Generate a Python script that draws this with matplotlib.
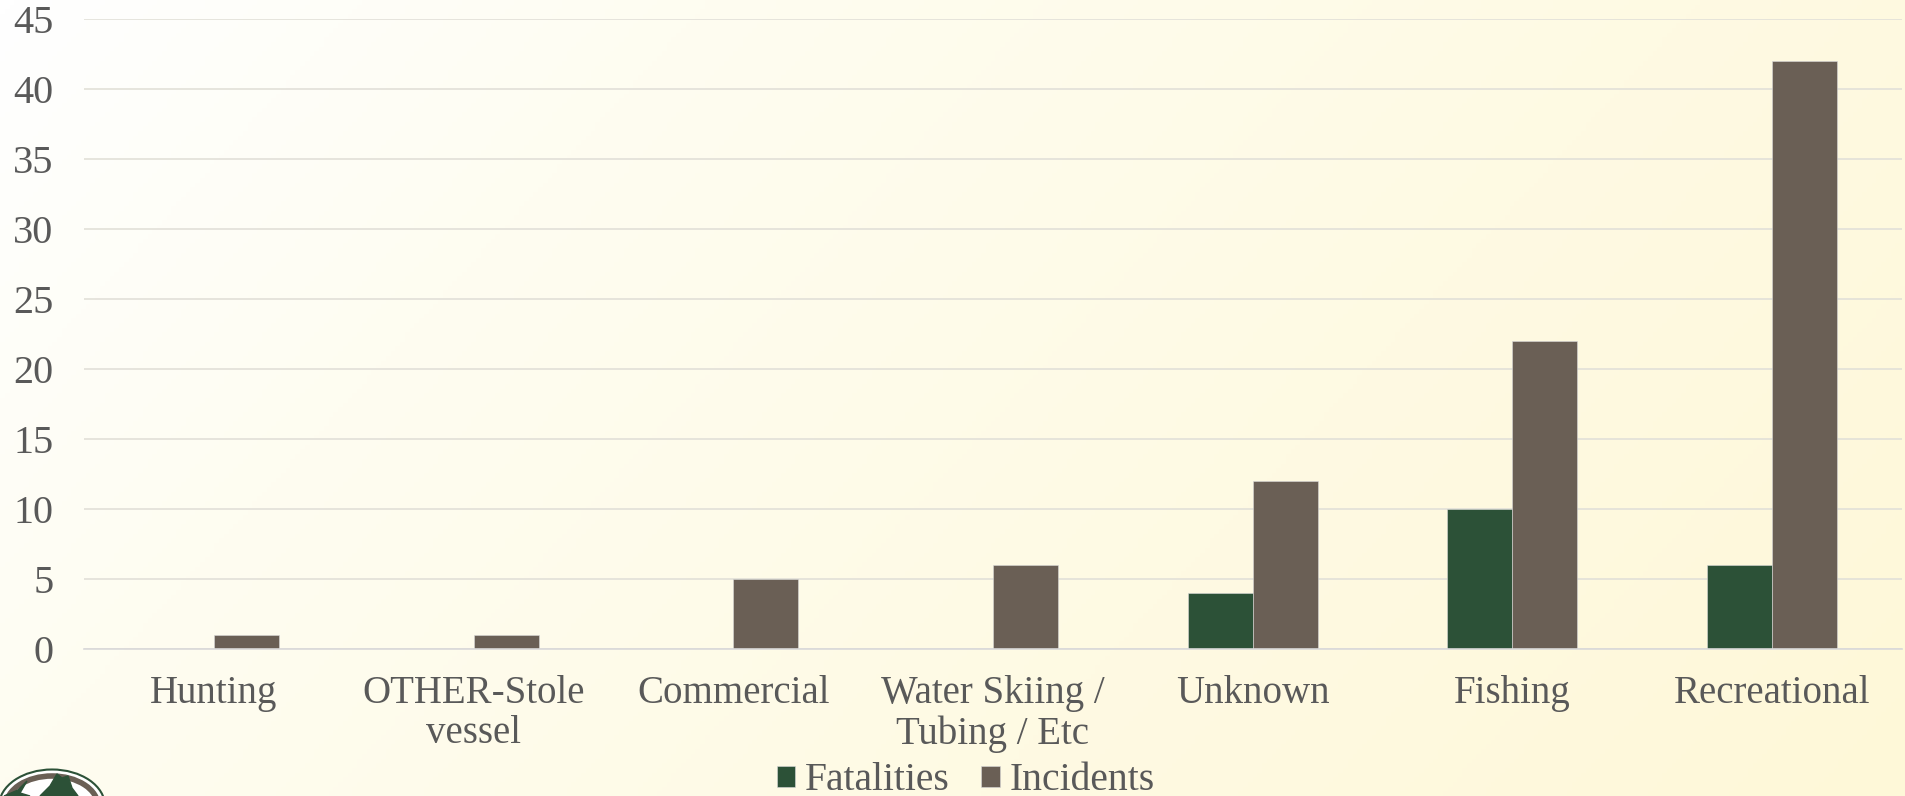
"""Fatalities and incidents by boating activity."""

import matplotlib

matplotlib.use("Agg")
import matplotlib.pyplot as plt
import numpy as np
from matplotlib.colors import LinearSegmentedColormap
from matplotlib.patches import Ellipse, Polygon

categorias = [
    "Hunting",
    "OTHER-Stole\nvessel",
    "Commercial",
    "Water Skiing /\nTubing / Etc",
    "Unknown",
    "Fishing",
    "Recreational",
]
fatalities = [0, 0, 0, 0, 4, 10, 6]
incidents = [1, 1, 5, 6, 12, 22, 42]
ticks_y = [0, 5, 10, 15, 20, 25, 30, 35, 40, 45]

VERDE = "#2c5137"
MARRON = "#6a5f55"
TEXTO = "#595959"
W, H = 1905, 796

plt.rcParams["font.family"] = ["Liberation Serif", "DejaVu Serif"]

fig = plt.figure(figsize=(W / 100, H / 100), dpi=100)

# fondo con degradado diagonal, de blanco a crema
fondo = fig.add_axes([0, 0, 1, 1], zorder=0)
fondo.axis("off")
gx, gy = np.meshgrid(np.linspace(0, 1, 400), np.linspace(1, 0, 170))
grad = np.clip((gx * W + (1 - gy) * H * 0.9) / (W + H * 0.9), 0, 1)
cmap = LinearSegmentedColormap.from_list(
    "crema", [(0, "#ffffff"), (0.27, "#fefdf1"), (0.65, "#fefae3"), (1, "#fef8d8")]
)
fondo.imshow(grad, cmap=cmap, aspect="auto", extent=[0, 1, 0, 1], vmin=0, vmax=1)

ax = fig.add_axes([84 / W, 1 - 649 / H, (1902 - 84) / W, (649 - 19.5) / H], zorder=1)
ax.patch.set_alpha(0)

x = np.arange(len(categorias))
ancho = 65 / 259.7
ax.bar(x - ancho / 2, fatalities, ancho, color=VERDE, edgecolor="#d9d9d9", linewidth=0.4, label="Fatalities", zorder=2)
ax.bar(x + ancho / 2, incidents, ancho, color=MARRON, edgecolor="#d9d9d9", linewidth=0.4, label="Incidents", zorder=2)

ax.set_xlim(-0.5, len(categorias) - 0.5)
ax.set_ylim(0, 45)
ax.set_yticks(ticks_y)
ax.set_xticks(x)
ax.set_xticklabels(categorias, linespacing=1.1)
ax.tick_params(axis="x", length=0, labelsize=28, labelcolor=TEXTO, pad=19)
ax.tick_params(axis="y", length=0, labelsize=29, labelcolor=TEXTO, pad=22)
ax.grid(axis="y", color="#e2e0d8", linewidth=1.2, zorder=1)
ax.set_axisbelow(True)
for lado in ["top", "right", "left"]:
    ax.spines[lado].set_visible(False)
ax.spines["bottom"].set_color("#d9d9d9")
ax.spines["bottom"].set_linewidth(1.2)

fig.legend(
    loc="center",
    bbox_to_anchor=(0.507, 1 - 781 / H),
    ncol=2,
    frameon=False,
    fontsize=28.5,
    labelcolor=TEXTO,
    handlelength=0.46,
    handleheight=0.46,
    handletextpad=0.26,
    columnspacing=0.8,
)

# logo recortado por el borde inferior izquierdo
logo = fig.add_axes([0, 0, 110 / W, 28 / H], zorder=2)
logo.set_xlim(0, 110)
logo.set_ylim(0, 28)
logo.axis("off")
logo.add_patch(Ellipse((52, -10), 106, 73, facecolor="#ffffff", edgecolor=VERDE, linewidth=1.5))
logo.add_patch(Ellipse((52, -10), 92, 60, facecolor="none", edgecolor=MARRON, linewidth=4))
logo.add_patch(Polygon([(4, 0), (18, 6), (27, 15), (20, 3), (30, 0)], color=VERDE))
logo.add_patch(Polygon([(40, 0), (50, 10), (57, 22), (62, 18), (68, 20), (72, 8), (78, 0)], color=VERDE))

fig.savefig("out.png", dpi=100)
